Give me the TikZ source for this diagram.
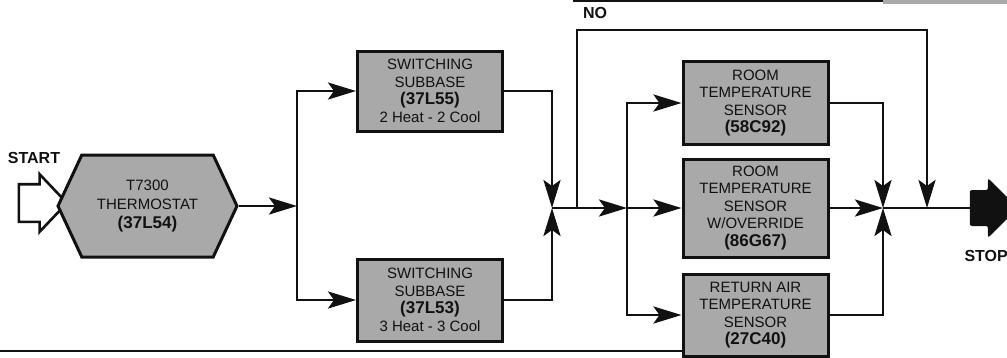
\documentclass[tikz,border=0pt]{standalone}
\usepackage{fontspec}
\setmainfont{Liberation Sans}
\usetikzlibrary{arrows.meta,shapes.symbols,shapes.arrows}
\definecolor{scan}{HTML}{A9A9A9}
\definecolor{ink}{HTML}{111111}
\tikzset{
  partbox/.style={rectangle,draw=ink,fill=scan,line width=3pt,
    minimum width=145pt,inner sep=0pt,align=center,text=ink,
    font=\fontsize{15}{17.5}\selectfont},
  hexbox/.style={signal,signal to=west and east,signal pointer angle=130,
    draw=ink,fill=scan,line width=3pt,minimum width=179pt,
    minimum height=102pt,inner sep=0pt,align=center,text=ink,
    font=\fontsize{15}{19}\selectfont},
  startarrow/.style={single arrow,draw=ink,fill=white,line width=2.6pt,
    minimum height=48pt,inner xsep=0pt,inner ysep=17.5pt,
    single arrow head extend=10pt,single arrow tip angle=93},
  stoparrow/.style={single arrow,draw=ink,fill=ink,line width=1pt,
    rounded corners=2pt,minimum height=47pt,inner xsep=0pt,inner ysep=17pt,
    single arrow head extend=11.5pt,single arrow tip angle=90},
  flow/.style={line width=2.8pt,draw=ink,
    -{Stealth[length=28pt,width=17pt,inset=6pt]}},
  wire/.style={line width=2.8pt,draw=ink},
  tag/.style={font=\fontsize{16}{18}\selectfont\bfseries,text=ink},
}
\newcommand{\partno}[1]{{\fontsize{17}{17.5}\selectfont\bfseries #1}}

\begin{document}
\begin{tikzpicture}[x=1pt,y=-1pt]
  \clip (0,0) rectangle (1007,357);
  % page rules
  \draw[ink,line width=2pt] (573,1) -- (883,1);
  \fill[scan] (883,0) rectangle (1007,4);
  \draw[ink,line width=2.4pt] (0,351) -- (683,351);

  \node[tag] (start) at (34,158) {START};
  \node[startarrow] (go) at (34,203) {};
  \node[hexbox] (tstat) at (147.5,206) {T7300\\THERMOSTAT\\\partno{(37L54)}};

  \node[partbox,minimum height=80pt] (sb55) at (430,91)
    {SWITCHING\\SUBBASE\\\partno{(37L55)}\\2 Heat - 2 Cool};
  \node[partbox,minimum height=82pt] (sb53) at (430,300)
    {SWITCHING\\SUBBASE\\\partno{(37L53)}\\3 Heat - 3 Cool};

  \node[partbox,minimum height=83pt] (rs92) at (755.5,103)
    {ROOM\\TEMPERATURE\\SENSOR\\\partno{(58C92)}};
  \node[partbox,minimum height=98pt] (rs67) at (755.5,208)
    {ROOM\\TEMPERATURE\\SENSOR\\W/OVERRIDE\\\partno{(86G67)}};
  \node[partbox,minimum height=82pt] (ra40) at (755.5,315)
    {RETURN AIR\\TEMPERATURE\\SENSOR\\\partno{(27C40)}};

  \node[stoparrow] (stop) at (985,208) {};
  \node[tag,anchor=west] (stoplbl) at (961,256) {STOP};
  \node[tag] (no) at (595,13) {NO};

  \coordinate (jA) at (297,206);
  \coordinate (jB) at (552,208);
  \coordinate (noA) at (577,208);
  \coordinate (noTR) at (927,30);
  \coordinate (jE) at (927,208);
  \coordinate (jC) at (627,208);
  \coordinate (jD) at (883,208);

  \draw[flow] (tstat.east) -- (jA);
  \draw[flow] (jA) |- (sb55.west);
  \draw[flow] (jA) |- (sb53.west);
  \draw[flow] (sb55.east) -| (jB);
  \draw[flow] (sb53.east) -| (jB);
  \draw[flow] (jB) -- (jC);
  \draw[flow] (noA) |- (noTR) -- (jE);
  \draw[flow] (jC) |- (rs92.west);
  \draw[flow] (jC) -- (rs67.west);
  \draw[flow] (jC) |- (ra40.west);
  \draw[flow] (rs92.east) -| (jD);
  \draw[flow] (rs67.east) -- (jD);
  \draw[flow] (ra40.east) -| (jD);
  \draw[wire] (jD) -- (stop.west);
\end{tikzpicture}
\end{document}
